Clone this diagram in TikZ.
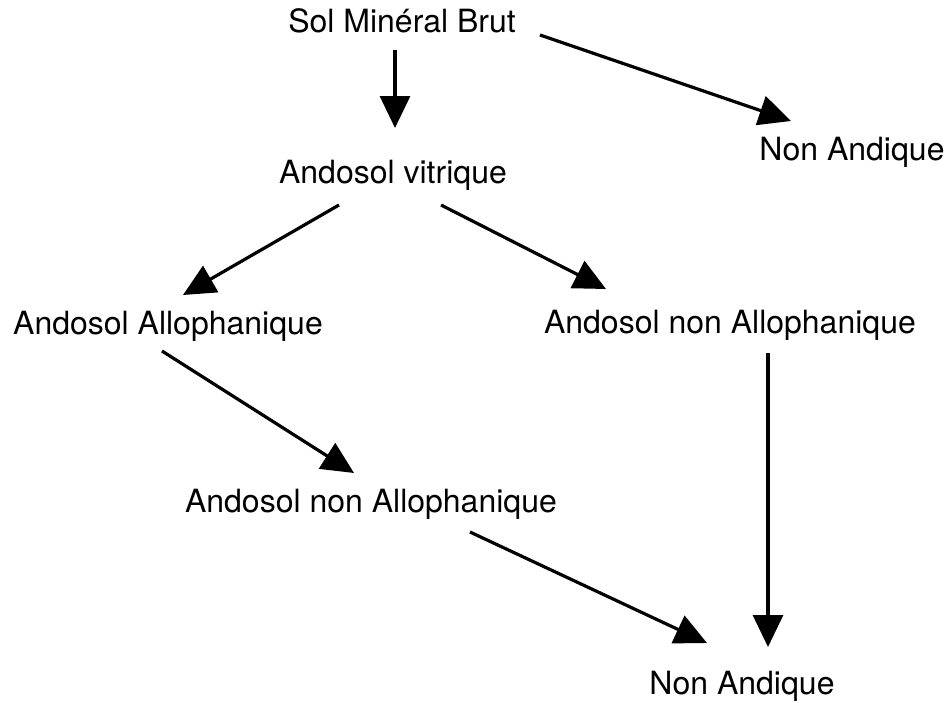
\documentclass[tikz,border=0pt]{standalone}
\usepackage{fontspec}
\setmainfont{TeX Gyre Heros}
\usetikzlibrary{arrows.meta}
\begin{document}
\begin{tikzpicture}[x=0.75pt,y=-0.75pt,
  lbl/.style={anchor=base,inner sep=0pt,font=\fontsize{24pt}{28pt}\selectfont},
  arr/.style={line width=2.4pt,-{Triangle[length=24pt,width=22.5pt]}}]
\useasboundingbox (0,0) rectangle (950,703);
\node[lbl] (sol) at (402,32) {Sol Minéral Brut};
\node[lbl] (na1) at (852,160) {Non Andique};
\node[lbl] (vit) at (393,183) {Andosol vitrique};
\node[lbl] (allo) at (168,334) {Andosol Allophanique};
\node[lbl] (nal1) at (730,333) {Andosol non Allophanique};
\node[lbl] (nal2) at (371,512) {Andosol non Allophanique};
\node[lbl] (na2) at (742,694) {Non Andique};
\draw[arr] ([shift={(-7,18)}]sol.base) -- ([shift={(2,-55)}]vit.base);
\draw[arr] ([shift={(138,3)}]sol.base) -- ([shift={(-61,-39)}]na1.base);
\draw[arr] ([shift={(-54,22)}]vit.base) -- ([shift={(15,-39)}]allo.base);
\draw[arr] ([shift={(48,22)}]vit.base) -- ([shift={(-124,-44)}]nal1.base);
\draw[arr] ([shift={(-6,17)}]allo.base) -- ([shift={(-17,-39)}]nal2.base);
\draw[arr] ([shift={(38,20)}]nal1.base) -- ([shift={(26,-47)}]na2.base);
\draw[arr] ([shift={(99,20)}]nal2.base) -- ([shift={(-35,-51)}]na2.base);
\end{tikzpicture}
\end{document}
